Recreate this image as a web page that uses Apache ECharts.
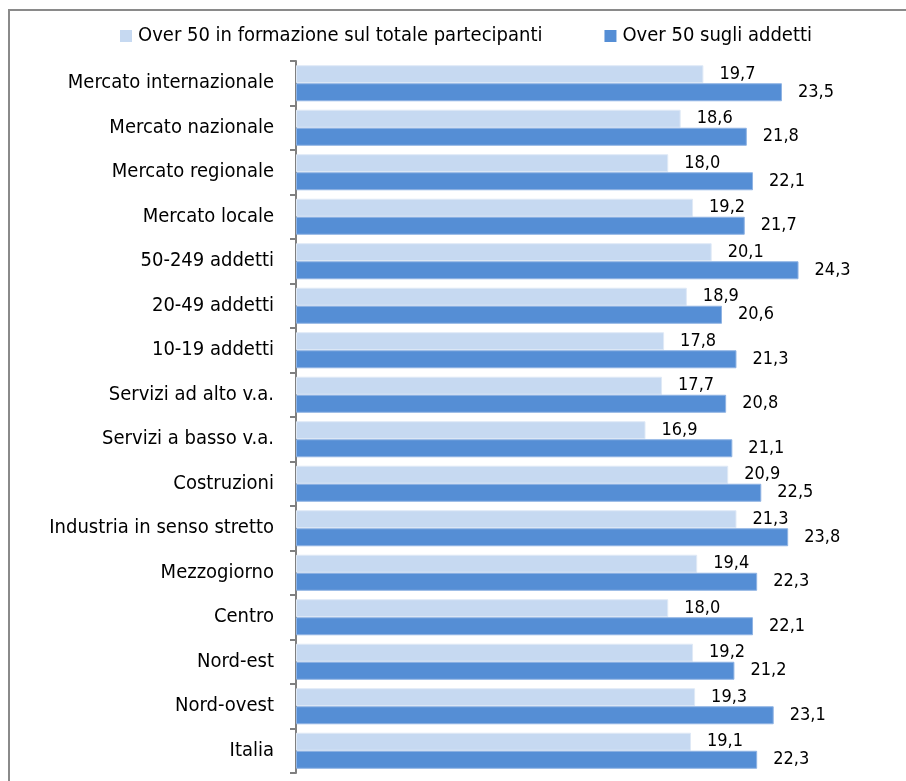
<!DOCTYPE html>
<html>
<head>
<meta charset="utf-8">
<script src="https://cdn.jsdelivr.net/npm/echarts@6/dist/echarts.min.js"></script>
<style>html,body{margin:0;padding:0;background:#fff;}#c{width:906px;height:781px;}</style>
</head>
<body>
<div id="c"></div>
<script>
const categories = ["Mercato internazionale","Mercato nazionale","Mercato regionale","Mercato locale","50-249 addetti","20-49 addetti","10-19 addetti","Servizi ad alto v.a.","Servizi a basso v.a.","Costruzioni","Industria in senso stretto","Mezzogiorno","Centro","Nord-est","Nord-ovest","Italia"];
const seriesNames = ["Over 50 in formazione sul totale partecipanti","Over 50 sugli addetti"];
const formazione = [19.7,18.6,18.0,19.2,20.1,18.9,17.8,17.7,16.9,20.9,21.3,19.4,18.0,19.2,19.3,19.1];
const addetti = [23.5,21.8,22.1,21.7,24.3,20.6,21.3,20.8,21.1,22.5,23.8,22.3,22.1,21.2,23.1,22.3];

const FONT = "'Liberation Sans Narrow','DejaVu Sans Condensed',sans-serif";
const chart = echarts.init(document.getElementById('c'), null, {renderer:'canvas'});
const fmt = p => p.value.toFixed(1).replace('.', ',');
chart.setOption({
  animation:false,
  backgroundColor:'#fff',
  graphic:[{type:'rect', shape:{x:9,y:10,width:1000,height:1000}, style:{fill:null, stroke:'#8a8a8a', lineWidth:2}, silent:true}],
  legend:{
    top:21, left:115, itemWidth:12, itemHeight:12, itemGap:62,
    icon:'rect',
    itemStyle:{borderWidth:0},
    textStyle:{fontFamily:FONT, fontSize:20, color:'#000', padding:[0,0,0,1]},
    data:seriesNames
  },
  grid:{left:296, top:61, width:517, height:712, containLabel:false},
  xAxis:{type:'value', min:0, max:25, show:false},
  yAxis:{
    type:'category', inverse:true, data:categories,
    axisLine:{show:true, lineStyle:{color:'#808080', width:2}},
    axisTick:{show:true, length:6, lineStyle:{color:'#808080', width:2}},
    axisLabel:{fontFamily:FONT, fontSize:20, color:'#000', margin:22}
  },
  series:[
    {name:seriesNames[0], type:'bar', data:formazione, barGap:'0%', barCategoryGap:'19%',
     itemStyle:{color:'#C6D9F1', borderColor:'#dfe9f6', borderWidth:1},
     label:{show:true, position:'right', distance:16, formatter:fmt, fontFamily:FONT, fontSize:18, color:'#000'}},
    {name:seriesNames[1], type:'bar', data:addetti, barGap:'0%', barCategoryGap:'19%',
     itemStyle:{color:'#558ED5', borderColor:'#8fb3e3', borderWidth:1},
     label:{show:true, position:'right', distance:16, formatter:fmt, fontFamily:FONT, fontSize:18, color:'#000'}}
  ]
});
</script>
</body>
</html>
